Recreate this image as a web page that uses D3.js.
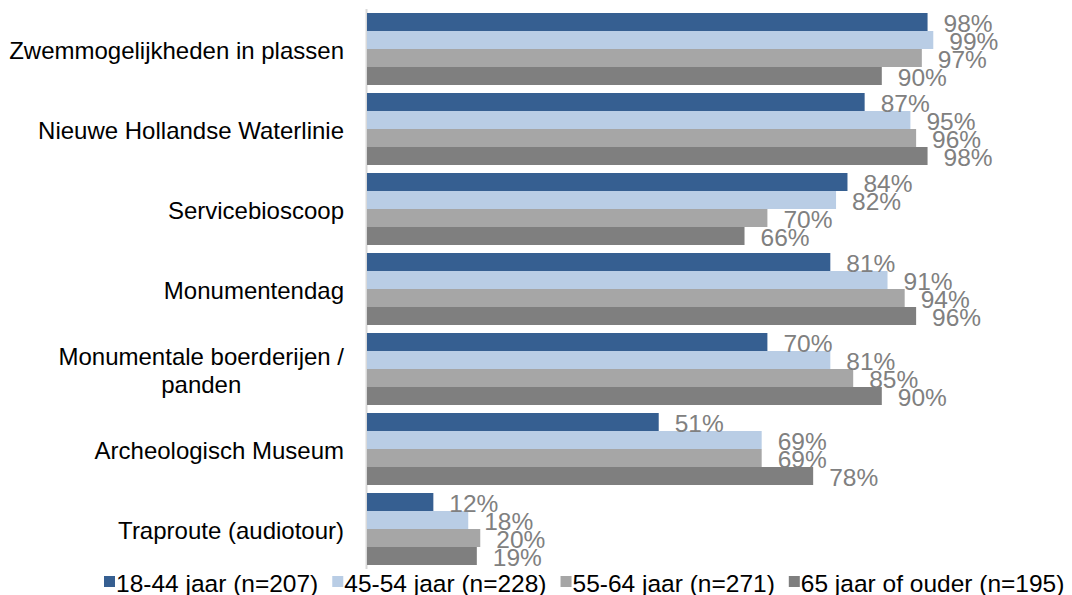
<!DOCTYPE html>
<html>
<head>
<meta charset="utf-8">
<script src="https://cdn.jsdelivr.net/npm/d3@7"></script>
<style>
  html, body { margin: 0; padding: 0; background: #fff; }
  svg { display: block; font-family: "Liberation Sans", Arial, sans-serif; }
</style>
</head>
<body>
<svg id="chart" width="1072" height="595"></svg>
<script>
const categories = [
  "Zwemmogelijkheden in plassen",
  "Nieuwe Hollandse Waterlinie",
  "Servicebioscoop",
  "Monumentendag",
  "Monumentale boerderijen /|panden",
  "Archeologisch Museum",
  "Traproute (audiotour)"
];
const seriesNames = ["18-44 jaar (n=207)", "45-54 jaar (n=228)", "55-64 jaar (n=271)", "65 jaar of ouder (n=195)"];
const s1844 = [98, 87, 84, 81, 70, 51, 11.6];
const s4554 = [99, 95, 82, 91, 81, 69, 17.7];
const s5564 = [97, 96, 70, 94, 85, 69, 19.8];
const s65plus = [90, 98, 66, 96, 90, 78, 19.2];
const seriesValues = [s1844, s4554, s5564, s65plus];
const colors = ["#365F91", "#B9CDE5", "#A6A6A6", "#7F7F7F"];

const svg = d3.select("#chart");
const x = d3.scaleLinear().domain([0, 100]).range([367, 939]);
const y = d3.scaleBand().domain(categories).range([9, 569]).paddingInner(0.1).paddingOuter(0.05);
const ys = d3.scaleBand().domain(d3.range(seriesNames.length)).range([0, y.bandwidth()]);

const catFont = 24, labFont = 24.5, legFont = 24.5;

// axis line
svg.append("line")
  .attr("x1", x(0) - 0.5).attr("x2", x(0) - 0.5)
  .attr("y1", 9).attr("y2", 569)
  .attr("stroke", "#D9D9D9").attr("stroke-width", 2);

const groups = svg.selectAll("g.cat").data(categories).enter().append("g")
  .attr("transform", d => `translate(0,${y(d)})`);

groups.each(function(cat, ci) {
  const g = d3.select(this);
  seriesValues.forEach((vals, si) => {
    g.append("rect")
      .attr("x", x(0))
      .attr("y", ys(si))
      .attr("width", x(vals[ci]) - x(0))
      .attr("height", ys.bandwidth())
      .attr("fill", colors[si]);
  });
});

groups.each(function(cat, ci) {
  const g = d3.select(this);
  seriesValues.forEach((vals, si) => {
    g.append("text")
      .attr("x", x(vals[ci]) + 16)
      .attr("y", ys(si) + ys.bandwidth() / 2 + 1)
      .attr("dominant-baseline", "central")
      .attr("font-size", labFont)
      .attr("fill", "#808080")
      .text(Math.round(vals[ci]) + "%");
  });
});

// category labels
categories.forEach(cat => {
  const lines = cat.split("|");
  const cy = y(cat) + y.bandwidth() / 2;
  const lh = 28;
  if (lines.length === 1) {
    svg.append("text")
      .attr("x", 344).attr("y", cy + 1)
      .attr("text-anchor", "end")
      .attr("dominant-baseline", "central")
      .attr("font-size", catFont).attr("fill", "#000")
      .text(cat);
  } else {
    const t = svg.append("text").attr("font-size", catFont).attr("fill", "#000")
      .attr("text-anchor", "middle").attr("dominant-baseline", "central");
    const tmp = svg.append("text").attr("font-size", catFont).text(lines[0]);
    const w = tmp.node().getComputedTextLength();
    tmp.remove();
    const cx = 344 - w / 2;
    lines.forEach((ln, i) => {
      t.append("tspan").attr("x", cx)
        .attr("y", cy + 1 + (i - (lines.length - 1) / 2) * lh)
        .text(ln);
    });
  }
});

// legend
let lx = 104;
const ly = 582;
seriesNames.forEach((name, i) => {
  svg.append("rect").attr("x", lx).attr("y", ly - 6).attr("width", 11).attr("height", 11).attr("fill", colors[i]);
  const t = svg.append("text").attr("x", lx + 12).attr("y", ly + 1)
    .attr("dominant-baseline", "central").attr("font-size", legFont).attr("fill", "#000").text(name);
  lx += 12 + t.node().getComputedTextLength() + 14;
});
</script>
</body>
</html>
